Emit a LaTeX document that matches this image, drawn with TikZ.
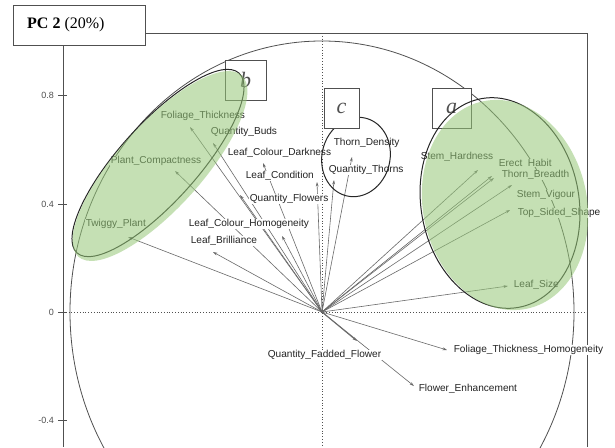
\documentclass[tikz,border=0pt]{standalone}
\usepackage{fontspec}
\setmainfont{Liberation Sans}
\newfontfamily\tms{Liberation Serif}
\usetikzlibrary{arrows.meta}
\definecolor{vecgray}{RGB}{105,105,105}
\definecolor{labtxt}{RGB}{35,35,35}
\definecolor{framec}{RGB}{80,80,80}
\definecolor{grfill}{RGB}{150,200,120}
\tikzset{
  vec/.style={draw=vecgray, line width=0.6pt, -{Stealth[length=4.5pt,width=2.8pt]}},
  lab/.style={anchor=west, inner sep=0.6pt, fill=white, text=labtxt, font=\fontsize{10.1}{11}\selectfont},
  tick/.style={anchor=east, inner sep=0pt, text=framec, font=\fontsize{9}{10}\selectfont},
  framel/.style={draw=framec, line width=0.8pt},
  axdot/.style={draw=framec, dotted, line width=0.8pt},
  letterbox/.style={draw=framec, line width=0.9pt, fill=white, inner sep=0pt, text=framec, font=\tms\fontsize{22}{24}\selectfont\itshape},
  greenblob/.style={fill=grfill, fill opacity=0.55, draw=none},
  blobline/.style={draw=black!85, line width=1pt}
}
\begin{document}
\begin{tikzpicture}[x=1pt,y=-1pt]
\useasboundingbox (0,0) rectangle (615,447);
\clip (0,0) rectangle (615,447);
\fill[white] (0,0) rectangle (615,447);
% frame
\draw[framel] (145,33) -- (587,33) -- (587,447);
\draw[framel] (63,45) -- (63,447);
\draw[draw=framec, line width=0.9pt, fill=white] (13,5) rectangle (145,45);
\node[anchor=west, inner sep=0pt, font=\tms\fontsize{16}{18}\selectfont] (pcbox) at (27,25) {\textbf{PC 2} (20\%)};
% ticks
\foreach \yy/\tl [count=\i] in {95/0.8, 204/0.4, 312/0, 420/-0.4}{
  \draw[framel, line width=0.7pt] (58,\yy) -- (67,\yy);
  \node[tick] (tk\i) at (54,\yy) {\tl};
}
% dotted axes
\draw[axdot] (63,312) -- (587,312);
\draw[axdot] (322,33) -- (322,447);
% correlation circle
\coordinate (O) at (322,312);
\draw[draw=framec, line width=0.8pt] (O) ellipse [x radius=252, y radius=271];
% arrow tips
\coordinate (tTP) at (128,237);
\coordinate (tLB) at (213,252);
\coordinate (tPC) at (175,171);
\coordinate (tFT) at (190,127);
\coordinate (tQB) at (213,143);
\coordinate (tLCD) at (263,163);
\coordinate (tLC) at (317,182);
\coordinate (tQF) at (240,195);
\coordinate (tLCH) at (282,236);
\coordinate (tTD) at (352,157);
\coordinate (tQT) at (334,180);
\coordinate (tSH) at (478,170);
\coordinate (tEH) at (492,176);
\coordinate (tTB) at (494,178);
\coordinate (tSV) at (512,185);
\coordinate (tTS) at (510,210);
\coordinate (tLS) at (508,286);
\coordinate (tFTH) at (447,350);
\coordinate (tQFF) at (357,341);
\coordinate (tFE) at (414,386);
\foreach \t in {tTP,tLB,tPC,tFT,tQB,tLCD,tLC,tQF,tLCH,tTD,tQT,tSH,tEH,tTB,tSV,tTS,tLS,tFTH,tFE}{
  \draw[vec] (O) -- (\t);
}
\draw[vec, line width=1pt] (O) -- (tQFF);
% labels
\node[lab] (lTP) at (85,224) {Twiggy\_Plant};
\node[lab] (lLB) at (190,241) {Leaf\_Brilliance};
\node[lab] (lPC) at (110,161) {Plant\_Compactness};
\node[lab] (lFT) at (160,116) {Foliage\_Thickness};
\node[lab] (lQB) at (210,132) {Quantity\_Buds};
\node[lab] (lLCD) at (227,153) {Leaf\_Colour\_Darkness};
\node[lab] (lLC) at (245,176) {Leaf\_Condition};
\node[lab] (lQF) at (249,199) {Quantity\_Flowers};
\node[lab] (lLCH) at (188,224) {Leaf\_Colour\_Homogeneity};
\node[lab] (lTD) at (333,143) {Thorn\_Density};
\node[lab] (lQT) at (328,170) {Quantity\_Thorns};
\node[lab] (lSH) at (420,157) {Stem\_Hardness};
\node[lab] (lEH) at (498,163) {Erect\ \ Habit};
\node[lab] (lTB) at (501,175) {Thorn\_Breadth};
\node[lab] (lSV) at (516,195) {Stem\_Vigour};
\node[lab] (lTS) at (517,213) {Top\_Sided\_Shape};
\node[lab] (lLS) at (513,285) {Leaf\_Size};
\node[lab] (lFTH) at (453,350) {Foliage\_Thickness\_Homogeneity};
\node[lab] (lQFF) at (267,355) {Quantity\_Fadded\_Flower};
\node[lab] (lFE) at (418,389) {Flower\_Enhancement};
% group c outline
\draw[blobline] (356,157) ellipse [x radius=34, y radius=40, rotate=-14];
% letter boxes
\node[letterbox, minimum width=41, minimum height=40] (bb) at (245.5,80) {b};
\node[letterbox, minimum width=35, minimum height=40] (bc) at (341.5,108) {c};
\node[letterbox, minimum width=39, minimum height=40] (ba) at (451.5,108) {a};
% group outlines a, b
\draw[blobline] (158,163) ellipse [x radius=121, y radius=39, rotate=48];
\draw[blobline] (500,203) ellipse [x radius=79, y radius=106, rotate=10];
% green translucent fills
\path[greenblob] (160,166) ellipse [x radius=122, y radius=42, rotate=48];
\path[greenblob] (505,205) ellipse [x radius=82, y radius=106, rotate=12];
\end{tikzpicture}
\end{document}
